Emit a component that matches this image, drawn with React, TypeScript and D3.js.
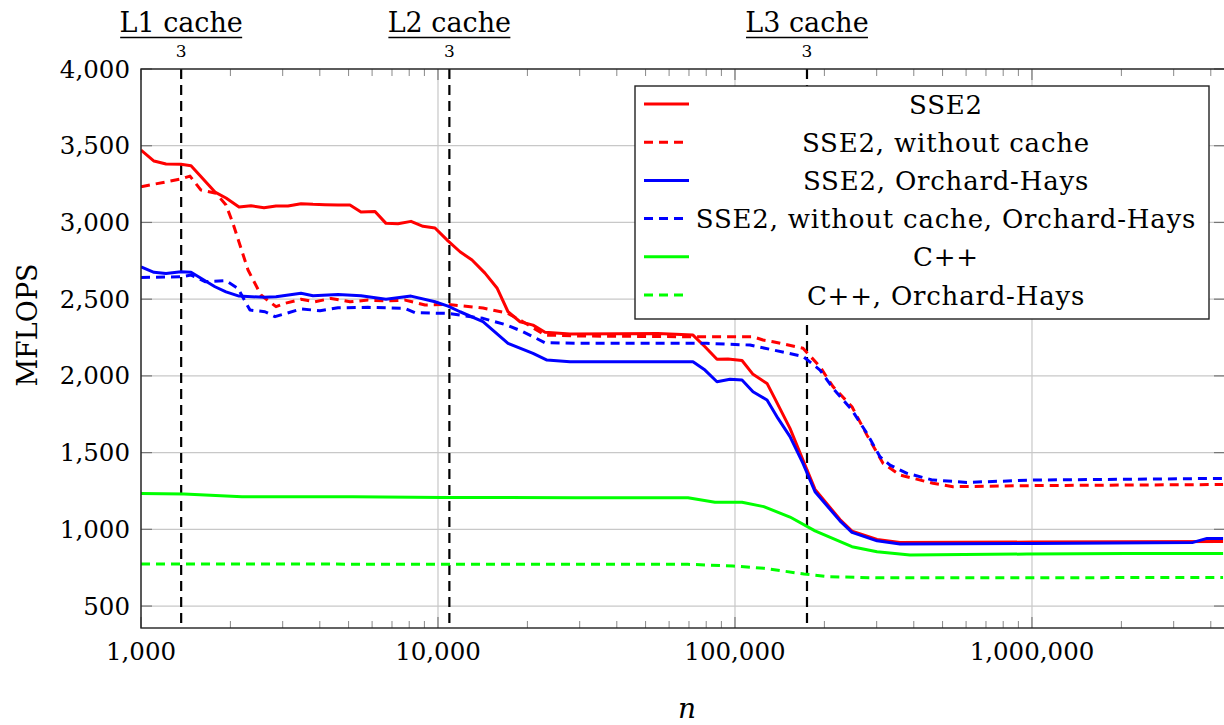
import React from "react";
import * as d3 from "d3";

// problem size n vs MFLOPS
const sse2: [number, number][] = [
  [1000, 3472], [1106, 3400], [1214, 3381], [1363, 3379], [1474, 3370], [1775, 3198],
  [1933, 3159], [2138, 3100], [2346, 3109], [2595, 3096], [2848, 3107], [3125, 3107],
  [3457, 3122], [3794, 3118], [4164, 3116], [4607, 3114], [5054, 3114], [5504, 3068],
  [6137, 3072], [6682, 2994], [7333, 2992], [8111, 3007], [8903, 2975], [9770, 2964],
  [10807, 2880], [11862, 2809], [13020, 2755], [14394, 2670], [15800, 2573], [17210, 2418],
  [18890, 2353], [20893, 2331], [22934, 2284], [27820, 2273], [40000, 2275], [55000, 2276],
  [72210, 2266], [79250, 2190], [86970, 2108], [94710, 2110], [105600, 2100], [115000, 2010],
  [128200, 1951], [136400, 1850], [153200, 1658], [169400, 1452], [186000, 1260],
  [225700, 1064], [247700, 988], [300800, 934], [359400, 914], [1008000, 917], [4400000, 920],
];

const sse2NoCache: [number, number][] = [
  [1000, 3233], [1363, 3283], [1462, 3302], [1592, 3211], [1789, 3190], [1933, 3114],
  [2040, 2994], [2293, 2690], [2535, 2527], [2848, 2451], [3053, 2473], [3457, 2499],
  [3854, 2483], [4362, 2505], [5054, 2483], [5811, 2494], [6682, 2488], [7745, 2494],
  [9042, 2462], [10807, 2466], [14172, 2442], [17076, 2410], [19334, 2353], [22934, 2266],
  [30000, 2260], [72210, 2255], [115000, 2255], [124300, 2234], [134300, 2223],
  [169400, 2180], [193300, 2060], [213800, 1930], [247700, 1799], [278200, 1614],
  [315100, 1430], [359400, 1354], [464200, 1300], [542000, 1278], [1000000, 1285], [4400000, 1292],
];

const sse2OH: [number, number][] = [
  [1000, 2711], [1106, 2675], [1214, 2668], [1363, 2679], [1474, 2675], [1775, 2581],
  [1933, 2548], [2138, 2520], [2595, 2512], [2848, 2516], [3457, 2538], [3794, 2522],
  [4607, 2531], [5504, 2522], [6682, 2499], [8111, 2520], [9770, 2483], [10807, 2455],
  [11862, 2418], [14172, 2353], [17210, 2212], [20893, 2147], [23280, 2103], [27820, 2092],
  [72210, 2092], [79250, 2038], [86970, 1962], [96200, 1978], [105600, 1973], [115000, 1897],
  [128200, 1843], [139600, 1723], [153200, 1604], [169400, 1430], [186000, 1245],
  [225700, 1055], [247700, 980], [300800, 925], [359400, 905], [1008000, 908],
  [3484000, 915], [3884000, 941], [4400000, 941],
];

const sse2NoCacheOH: [number, number][] = [
  [1000, 2642], [1363, 2646], [1474, 2657], [1643, 2614], [1933, 2620], [2121, 2570],
  [2328, 2429], [2615, 2418], [2827, 2386], [3457, 2436], [4006, 2425], [4607, 2444],
  [5811, 2447], [7745, 2440], [8367, 2412], [10807, 2407], [14172, 2375], [17076, 2331],
  [19334, 2288], [22934, 2216], [30000, 2212], [80480, 2212], [112300, 2201], [134300, 2169],
  [169400, 2127], [193300, 2038], [213800, 1919], [247700, 1777], [278200, 1625],
  [307800, 1473], [332600, 1419], [379500, 1365], [464200, 1321], [604100, 1306],
  [1008000, 1321], [4400000, 1332],
];

const cpp: [number, number][] = [
  [1000, 1234], [1396, 1230], [2188, 1212], [5173, 1212], [10315, 1208], [29150, 1206],
  [69470, 1206], [85630, 1176], [105600, 1176], [125000, 1148], [153200, 1080],
  [186000, 990], [247700, 887], [300800, 854], [388400, 832], [962000, 839],
  [2089000, 843], [4400000, 843],
];

const cppOH: [number, number][] = [
  [1000, 774], [69470, 772], [98470, 761], [125200, 746], [170700, 709], [208900, 691],
  [300000, 684], [4400000, 686],
];

const seriesNames = [
  "SSE2",
  "SSE2, without cache",
  "SSE2, Orchard-Hays",
  "SSE2, without cache, Orchard-Hays",
  "C++",
  "C++, Orchard-Hays",
];
const seriesColors = ["#ff0000", "#ff0000", "#0000ff", "#0000ff", "#00ff00", "#00ff00"];
const seriesDashed = [false, true, false, true, false, true];
const seriesData = [sse2, sse2NoCache, sse2OH, sse2NoCacheOH, cpp, cppOH];

// cache sizes divided by 24 bytes per element
const cacheNames = ["L1 cache", "L2 cache", "L3 cache"];
const cacheN = [32768 / 24, 262144 / 24, 4194304 / 24];

const yTicks = [500, 1000, 1500, 2000, 2500, 3000, 3500, 4000];
const xTicks = [1000, 10000, 100000, 1000000];

const W = 1224;
const H = 725;
const left = 141;
const right = 1225;
const top = 69;
const bottom = 628;
const font = "'DejaVu Serif', serif";

export default function App() {
  const x = d3.scaleLog().domain([1000, 4466000]).range([left, right]);
  const y = d3.scaleLinear().domain([357, 4000]).range([bottom, top]);
  const fmt = d3.format(",");

  const line = d3
    .line<[number, number]>()
    .x((d) => x(d[0]))
    .y((d) => y(d[1]));

  // minor ticks 2..9 per decade
  const minor: number[] = [];
  for (let p = 3; p <= 6; p++) {
    for (let m = 2; m <= 9; m++) {
      const v = m * Math.pow(10, p);
      if (v < x.domain()[1]) minor.push(v);
    }
  }

  const legX = 635;
  const legY = 86;
  const legW = 574;
  const legH = 233;
  const rowH = 38.2;

  return (
    <svg
      width={W}
      height={H}
      style={{ position: "absolute", left: 0, top: 0, background: "#fff" }}
      fontFamily={font}
    >
      <defs>
        <clipPath id="plot">
          <rect x={left} y={top} width={right - left} height={bottom - top} />
        </clipPath>
      </defs>

      {/* grid */}
      {yTicks.map((t) => (
        <line key={"gy" + t} x1={left} x2={right} y1={y(t)} y2={y(t)} stroke="#c8c8c8" strokeWidth={1.2} />
      ))}
      {xTicks.map((t) => (
        <line key={"gx" + t} x1={x(t)} x2={x(t)} y1={top} y2={bottom} stroke="#c8c8c8" strokeWidth={1.2} />
      ))}

      {/* ticks */}
      {minor.map((t) => (
        <g key={"m" + t} stroke="#888" strokeWidth={1}>
          <line x1={x(t)} x2={x(t)} y1={bottom} y2={bottom - 7} />
          <line x1={x(t)} x2={x(t)} y1={top} y2={top + 7} />
        </g>
      ))}
      {xTicks.map((t) => (
        <g key={"M" + t} stroke="#666" strokeWidth={1}>
          <line x1={x(t)} x2={x(t)} y1={bottom} y2={bottom - 11} />
          <line x1={x(t)} x2={x(t)} y1={top} y2={top + 11} />
        </g>
      ))}
      {yTicks.map((t) => (
        <g key={"yt" + t} stroke="#777" strokeWidth={1.2}>
          <line x1={left} x2={left + 11} y1={y(t)} y2={y(t)} />
          <line x1={right} x2={right - 11} y1={y(t)} y2={y(t)} />
        </g>
      ))}

      {/* cache lines */}
      {cacheN.map((c, i) => (
        <g key={"c" + i}>
          <line x1={x(c)} x2={x(c)} y1={top} y2={bottom} stroke="#000" strokeWidth={2.2} strokeDasharray="10 6" />
          <text x={x(c)} y={32} textAnchor="middle" fontSize={27}>
            {cacheNames[i]}
          </text>
          <line x1={x(c) - 61} x2={x(c) + 61} y1={37.5} y2={37.5} stroke="#000" strokeWidth={1.6} />
          <text x={x(c)} y={57} textAnchor="middle" fontSize={17}>
            3
          </text>
        </g>
      ))}

      {/* series */}
      <g clipPath="url(#plot)">
        {seriesData.map((d, i) => (
          <path
            key={"s" + i}
            d={line(d) || ""}
            fill="none"
            stroke={seriesColors[i]}
            strokeWidth={3}
            strokeDasharray={seriesDashed[i] ? "9 6" : undefined}
            strokeLinejoin="round"
          />
        ))}
      </g>

      {/* frame */}
      <rect x={left} y={top} width={right - left} height={bottom - top} fill="none" stroke="#222" strokeWidth={1.4} />

      {/* tick labels */}
      {yTicks.map((t) => (
        <text key={"yl" + t} x={130} y={y(t) + 8.5} textAnchor="end" fontSize={24.5}>
          {fmt(t)}
        </text>
      ))}
      {xTicks.map((t) => (
        <text key={"xl" + t} x={x(t)} y={660} textAnchor="middle" fontSize={24.5}>
          {fmt(t)}
        </text>
      ))}

      {/* axis titles */}
      <text x={687} y={718} textAnchor="middle" fontSize={28} fontStyle="italic">
        n
      </text>
      <text transform="translate(37,325) rotate(-90)" textAnchor="middle" fontSize={27}>
        MFLOPS
      </text>

      {/* legend */}
      <rect x={legX} y={legY} width={legW} height={legH} fill="#fff" stroke="#222" strokeWidth={1.4} />
      {seriesNames.map((name, i) => {
        const cy = legY + 18 + i * rowH;
        return (
          <g key={"l" + i}>
            <line
              x1={644}
              x2={689}
              y1={cy}
              y2={cy}
              stroke={seriesColors[i]}
              strokeWidth={3}
              strokeDasharray={seriesDashed[i] ? "9 6" : undefined}
            />
            <text x={946} y={cy + 9.5} textAnchor="middle" fontSize={26} letterSpacing={0.8}>
              {name}
            </text>
          </g>
        );
      })}
    </svg>
  );
}
